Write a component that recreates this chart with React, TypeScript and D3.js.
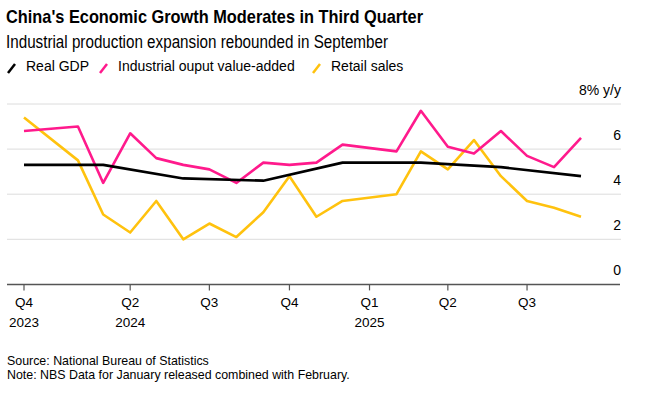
import { useEffect, useRef } from 'react'
import * as d3 from 'd3'

// monthly points (Jan data is released combined with Feb, so Jan is skipped)
const months = [
  '2023-12', '2024-02', '2024-03', '2024-04', '2024-05', '2024-06', '2024-07', '2024-08', '2024-09',
  '2024-10', '2024-11', '2024-12', '2025-02', '2025-03', '2025-04', '2025-05', '2025-06', '2025-07',
  '2025-08', '2025-09',
]
const industrial = [6.8, 7.0, 4.5, 6.7, 5.6, 5.3, 5.1, 4.5, 5.4, 5.3, 5.4, 6.2, 5.9, 7.7, 6.1, 5.8, 6.8, 5.7, 5.2, 6.5]
const retail = [7.4, 5.5, 3.1, 2.3, 3.7, 2.0, 2.7, 2.1, 3.2, 4.8, 3.0, 3.7, 4.0, 5.9, 5.1, 6.4, 4.8, 3.7, 3.4, 3.0]

// quarterly GDP, plotted at the quarter's last month
const gdpMonths = ['2023-12', '2024-03', '2024-06', '2024-09', '2024-12', '2025-03', '2025-06', '2025-09']
const gdp = [5.3, 5.3, 4.7, 4.6, 5.4, 5.4, 5.2, 4.8]

const tickDates = ['2023-12', '2024-04', '2024-07', '2024-10', '2025-01', '2025-04', '2025-07']
const tickLabels = [['Q4', '2023'], ['Q2', '2024'], ['Q3', ''], ['Q4', ''], ['Q1', '2025'], ['Q2', ''], ['Q3', '']]

const yTicks = [0, 2, 4, 6, 8]

const seriesNames = ['Real GDP', 'Industrial ouput value-added', 'Retail sales']
const seriesColors = ['#000000', '#ff1a8c', '#ffc20e']

export default function App() {
  const ref = useRef<SVGSVGElement | null>(null)

  useEffect(() => {
    document.body.style.margin = '0'
    if (!ref.current) return
    const svg = d3.select(ref.current)
    svg.selectAll('*').remove()

    const width = 646
    const height = 396
    const font = '"Liberation Sans", Arial, sans-serif'
    const parse = d3.timeParse('%Y-%m')

    const x = d3.scaleTime().domain([parse('2023-12')!, parse('2025-09')!]).range([24, 581])
    const y = d3.scaleLinear().domain([0, 8]).range([284.4, 104])
    const gridLeft = 7
    const gridRight = 621

    svg.attr('width', width).attr('height', height).style('display', 'block').style('background', '#fff')

    // Title, subtitle (source font is narrower, so squeeze to its width)
    svg.append('text').attr('x', 6).attr('y', 23).attr('font-family', font).attr('font-weight', 'bold')
      .attr('font-size', 18.5).attr('fill', '#000')
      .attr('textLength', 417).attr('lengthAdjust', 'spacingAndGlyphs')
      .text("China's Economic Growth Moderates in Third Quarter")
    svg.append('text').attr('x', 6).attr('y', 48).attr('font-family', font)
      .attr('font-size', 17.5).attr('fill', '#000')
      .attr('textLength', 382).attr('lengthAdjust', 'spacingAndGlyphs')
      .text('Industrial production expansion rebounded in September')

    // Legend
    const legendX = [8, 100, 313]
    seriesNames.forEach((name, i) => {
      const g = svg.append('g').attr('transform', `translate(${legendX[i]},0)`)
      g.append('line').attr('x1', 0).attr('y1', 73).attr('x2', 7).attr('y2', 64)
        .attr('stroke', seriesColors[i]).attr('stroke-width', 2.5)
      g.append('text').attr('x', 18).attr('y', 71).attr('font-family', font).attr('font-size', 14)
        .attr('fill', '#000').text(name)
    })

    // Grid lines
    svg.append('g').selectAll('line').data(yTicks.filter(d => d > 0)).join('line')
      .attr('x1', gridLeft).attr('x2', gridRight)
      .attr('y1', d => y(d)).attr('y2', d => y(d))
      .attr('stroke', '#dcdcdc').attr('stroke-width', 1)

    // Y labels
    svg.append('g').selectAll('text').data(yTicks).join('text')
      .attr('x', gridRight).attr('y', d => y(d) - 9)
      .attr('text-anchor', 'end').attr('font-family', font).attr('font-size', 14).attr('fill', '#000')
      .text(d => (d === 8 ? '8% y/y' : String(d)))

    // X axis
    const axis = svg.append('g')
    axis.append('line').attr('x1', gridLeft).attr('x2', 620).attr('y1', y(0)).attr('y2', y(0))
      .attr('stroke', '#555').attr('stroke-width', 1.5)
    tickDates.forEach((t, i) => {
      const tx = x(parse(t)!)
      axis.append('line').attr('x1', tx).attr('x2', tx).attr('y1', y(0)).attr('y2', y(0) + 6)
        .attr('stroke', '#555').attr('stroke-width', 1.2)
      axis.append('text').attr('x', tx).attr('y', 307).attr('text-anchor', 'middle')
        .attr('font-family', font).attr('font-size', 13.5).attr('fill', '#000').text(tickLabels[i][0])
      if (tickLabels[i][1]) {
        axis.append('text').attr('x', tx).attr('y', 327).attr('text-anchor', 'middle')
          .attr('font-family', font).attr('font-size', 13.5).attr('fill', '#000').text(tickLabels[i][1])
      }
    })

    // Lines
    const line = d3.line<[string, number]>()
      .x(d => x(parse(d[0])!))
      .y(d => y(d[1]))

    const seriesData: [string, number][][] = [
      gdpMonths.map((m, i) => [m, gdp[i]]),
      months.map((m, i) => [m, industrial[i]]),
      months.map((m, i) => [m, retail[i]]),
    ]
    // draw order: retail, industrial, gdp on top
    ;[2, 1, 0].forEach(i => {
      svg.append('path').datum(seriesData[i])
        .attr('fill', 'none').attr('stroke', seriesColors[i]).attr('stroke-width', 2.6)
        .attr('stroke-linejoin', 'round').attr('d', line)
    })

    // Footer
    svg.append('text').attr('x', 7).attr('y', 365).attr('font-family', font).attr('font-size', 12.4)
      .attr('fill', '#000').text('Source: National Bureau of Statistics')
    svg.append('text').attr('x', 7).attr('y', 379).attr('font-family', font).attr('font-size', 12.4)
      .attr('fill', '#000').text('Note: NBS Data for January released combined with February.')
  }, [])

  return <svg ref={ref}></svg>
}
